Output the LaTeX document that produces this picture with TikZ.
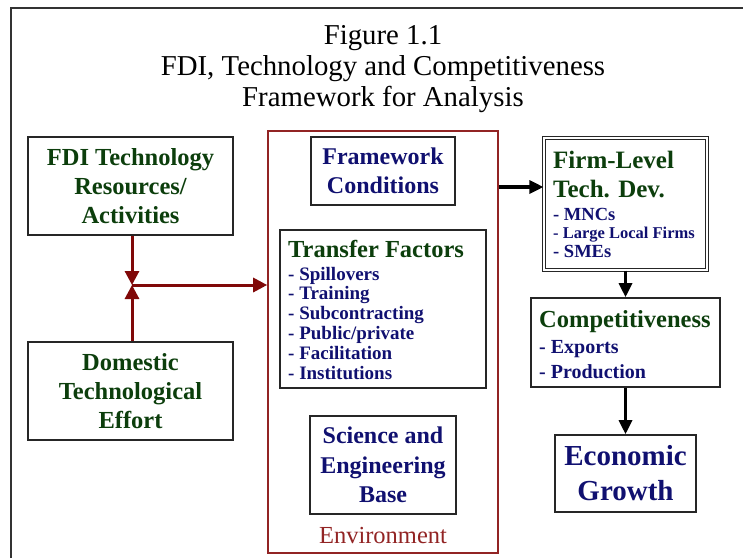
\documentclass[tikz,border=0pt]{standalone}
\usepackage{fontspec}
\setmainfont{Liberation Serif}
\usetikzlibrary{arrows.meta}

\definecolor{fdigreen}{RGB}{12,62,12}
\definecolor{fdinavy}{RGB}{16,16,112}
\definecolor{envred}{RGB}{146,36,36}
\definecolor{arrowred}{RGB}{128,8,8}
\newcommand{\fsz}[2]{\fontsize{#1}{#2}\selectfont}

\tikzset{
	box/.style={draw=black!85, line width=1.6pt, inner sep=0pt},
	greentxt/.style={text=fdigreen},
	navytxt/.style={text=fdinavy},
	redarrow/.style={draw=arrowred, line width=3pt, -{Triangle[length=14pt,width=14pt]}},
	blackarrow/.style={draw=black, line width=3.2pt, -{Triangle[length=14pt,width=13pt]}},
}

\begin{document}
\begin{tikzpicture}[x=1pt, y=-1pt]
				\useasboundingbox (0,0) rectangle (743,558);
				%page frame
				\draw[line width=1.6pt, black!80] (11,558) -- (11,8) -- (743,8);
				\node[font=\fsz{28.8}{31}, align=center] (title) at (383,69) {Figure 1.1\\FDI, Technology and Competitiveness\\Framework for Analysis};
				
				%inputs on the left
				\node[box, greentxt, minimum width=205pt, minimum height=98pt, align=center, font=\bfseries\fsz{24.5}{29}] (fdi) at (130.5,186) {FDI Technology\\Resources/\\Activities};
				\node[box, greentxt, minimum width=205pt, minimum height=98pt, align=center, font=\bfseries\fsz{24.5}{29}] (dom) at (130.5,391) {Domestic\\Technological\\Effort};
				\coordinate (join) at (132,285);
				
				%environment
				\node[draw=envred, line width=1.6pt, minimum width=230pt, minimum height=422pt, inner sep=0pt] (env) at (383,342) {};
				\node[text=envred, font=\fsz{24.5}{28}, anchor=base] (envlabel) at (383,543) {Environment};
				\node[box, navytxt, minimum width=144pt, minimum height=68pt, align=center, font=\bfseries\fsz{24}{29}] (frame) at (383,171) {Framework\\Conditions};
				\node[box, minimum width=206pt, minimum height=158pt] (transfer) at (383,309) {};
				\node[greentxt, font=\bfseries\fsz{24.5}{27}, anchor=base west, inner sep=0pt] (tfhead) at (288,257) {Transfer Factors};
				\foreach \t [count=\i] in {Spillovers, Training, Subcontracting, Public/private, Facilitation, Institutions}{
					\node[navytxt, font=\bfseries\fsz{19}{20}, anchor=base west, inner sep=0pt] (tf\i) at (288, 260.2+19.8*\i) {- \t};
				}
				\node[box, navytxt, minimum width=146pt, minimum height=98pt, align=center, font=\bfseries\fsz{24}{29.5}] (sci) at (383,465) {Science and\\Engineering\\Base};
				
				%firm level and outcomes
				\node[draw=black!85, line width=1.1pt, double, double distance=1.8pt, minimum width=163pt, minimum height=132pt, inner sep=0pt] (firm) at (625.5,204) {};
				\node[greentxt, font=\bfseries\fsz{25}{29}, anchor=base west, inner sep=0pt] (firmhead) at (553,168) {Firm-Level};
				\node[greentxt, font=\bfseries\fsz{25}{29}, anchor=base west, inner sep=0pt] (firmhead2) at (553,197) {Tech. Dev.};
				\node[navytxt, font=\bfseries\fsz{18.5}{20}, anchor=base west, inner sep=0pt] (mnc) at (553,220) {- MNCs};
				\node[navytxt, font=\bfseries\fsz{16.5}{18}, anchor=base west, inner sep=0pt] (llf) at (553,238) {- Large Local Firms};
				\node[navytxt, font=\bfseries\fsz{18.5}{20}, anchor=base west, inner sep=0pt] (sme) at (553,257) {- SMEs};
				
				\node[box, minimum width=189pt, minimum height=89pt] (comp) at (625.5,342.5) {};
				\node[greentxt, font=\bfseries\fsz{24.5}{28}, anchor=base west, inner sep=0pt] (comphead) at (539,327) {Competitiveness};
				\node[navytxt, font=\bfseries\fsz{20}{22}, anchor=base west, inner sep=0pt] (exp) at (539,353) {- Exports};
				\node[navytxt, font=\bfseries\fsz{20}{22}, anchor=base west, inner sep=0pt] (prod) at (539,378) {- Production};
				
				\node[box, navytxt, minimum width=141pt, minimum height=77pt, align=center, font=\bfseries\fsz{29}{35}] (econ) at (625.5,473.5) {Economic\\Growth};
				
				%arrows
				\draw[redarrow] (fdi.south -| join) -- (join);
				\draw[redarrow] (dom.north -| join) -- (join);
				\draw[redarrow] (join) -- (join -| env.west);
				\coordinate (envout) at (env.east |- 0,187);
				\draw[blackarrow] (envout) -- (envout -| firm.west);
				\draw[blackarrow] (firm.south) -- (comp.north);
				\draw[blackarrow] (comp.south) -- (econ.north);
\end{tikzpicture}
\end{document}
